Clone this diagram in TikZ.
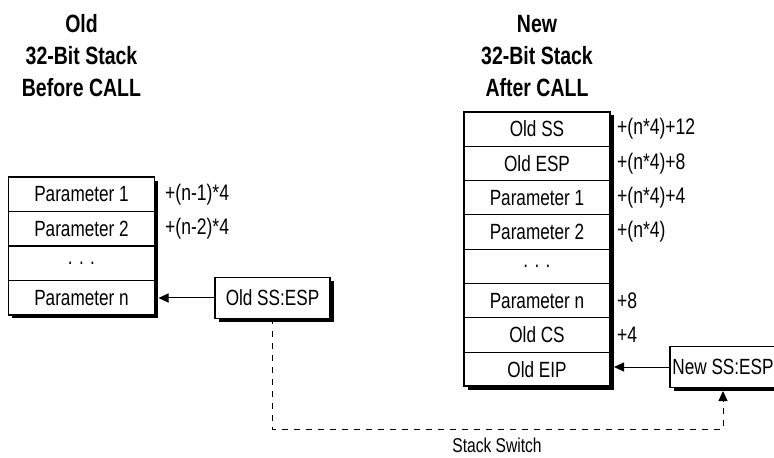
\documentclass[tikz,border=0pt]{standalone}
\usepackage{fontspec}
\setmainfont{Liberation Sans}
\newfontfamily\cfont{Liberation Sans}[FakeStretch=0.78]
\usetikzlibrary{arrows.meta,backgrounds}
\tikzset{
  cell/.style={draw, line width=0.8bp, fill=white, minimum width=146bp, minimum height=34.3bp,
    inner sep=0pt, outer sep=0pt, font=\cfont\fontsize{22bp}{24bp}\selectfont},
  ptr/.style={draw, line width=1.8bp, fill=white, minimum height=41bp,
    inner sep=0pt, outer sep=0pt, font=\cfont\fontsize{22bp}{24bp}\selectfont},
  off/.style={anchor=west, inner sep=0pt, font=\cfont\fontsize{22.5bp}{24bp}\selectfont},
  ttl/.style={align=center, inner sep=0pt, font=\cfont\bfseries\fontsize{25bp}{32bp}\selectfont},
  swlab/.style={inner sep=0pt, font=\cfont\fontsize{20bp}{22bp}\selectfont},
  frame/.style={line width=1.8bp},
  shadowfill/.style={fill=black},
  ptrarrow/.style={line width=1bp, -{Triangle[length=10bp,width=9bp]}, shorten >=4bp},
  switchline/.style={line width=1bp, dash pattern=on 6bp off 6bp, -{Triangle[length=10bp,width=9bp]}, shorten >=3.5bp}
}
\begin{document}
\begin{tikzpicture}[x=1bp, y=-1bp]
\useasboundingbox (0,0) rectangle (774,458);

% titles
\node[ttl] (ltitle) at (81.5,56) {Old\\32-Bit Stack\\Before CALL};
\node[ttl] (rtitle) at (537,56) {New\\32-Bit Stack\\After CALL};

% left stack
\node[cell] (l1) at (81.5,194.25) {Parameter 1};
\node[cell] (l2) at (81.5,228.75) {Parameter 2};
\node[cell] (l3) at (81.5,263.25) {. . .};
\node[cell] (l4) at (81.5,297.75) {Parameter n};
\draw[frame] (l1.north west) rectangle (l4.south east);

\node[off] (lo1) at (165,194.25) {+(n-1)*4};
\node[off] (lo2) at (165,228.75) {+(n-2)*4};

% right stack
\node[cell] (r1) at (537,129.1) {Old SS};
\node[cell] (r2) at (537,163.4) {Old ESP};
\node[cell] (r3) at (537,197.7) {Parameter 1};
\node[cell] (r4) at (537,232.0) {Parameter 2};
\node[cell] (r5) at (537,266.3) {. . .};
\node[cell] (r6) at (537,300.6) {Parameter n};
\node[cell] (r7) at (537,334.9) {Old CS};
\node[cell] (r8) at (537,369.2) {Old EIP};
\draw[frame] (r1.north west) rectangle (r8.south east);

\node[off] (ro1) at (617,129.1) {+(n*4)+12};
\node[off] (ro2) at (617,163.4) {+(n*4)+8};
\node[off] (ro3) at (617,197.7) {+(n*4)+4};
\node[off] (ro4) at (617,232.0) {+(n*4)};
\node[off] (ro6) at (617,300.6) {+8};
\node[off] (ro7) at (617,334.9) {+4};

% pointer boxes
\node[ptr, minimum width=115bp] (oldptr) at (272.5,298) {Old SS:ESP};
\node[ptr, minimum width=106bp] (newptr) at (723,367) {New SS:ESP};

% shadows
\begin{scope}[on background layer]
  \fill[shadowfill] ([shift={(3.5,3.5)}]l1.north west) rectangle ([shift={(3.5,3.5)}]l4.south east);
  \fill[shadowfill] ([shift={(3.5,3.5)}]r1.north west) rectangle ([shift={(3.5,3.5)}]r8.south east);
  \fill[shadowfill] ([shift={(3.5,3.5)}]oldptr.north west) rectangle ([shift={(3.5,3.5)}]oldptr.south east);
  \fill[shadowfill] ([shift={(3.5,3.5)}]newptr.north west) rectangle ([shift={(3.5,3.5)}]newptr.south east);
\end{scope}

% arrows
\draw[ptrarrow] (oldptr.west) -- (oldptr.west -| l4.east);
\draw[ptrarrow] (newptr.west) -- (newptr.west -| r8.east);

\coordinate (sw) at (497,429);
\draw[switchline] (oldptr.south) |- (sw) -| (newptr.south);
\node[swlab] (swlabel) at (497,445) {Stack Switch};
\end{tikzpicture}
\end{document}
